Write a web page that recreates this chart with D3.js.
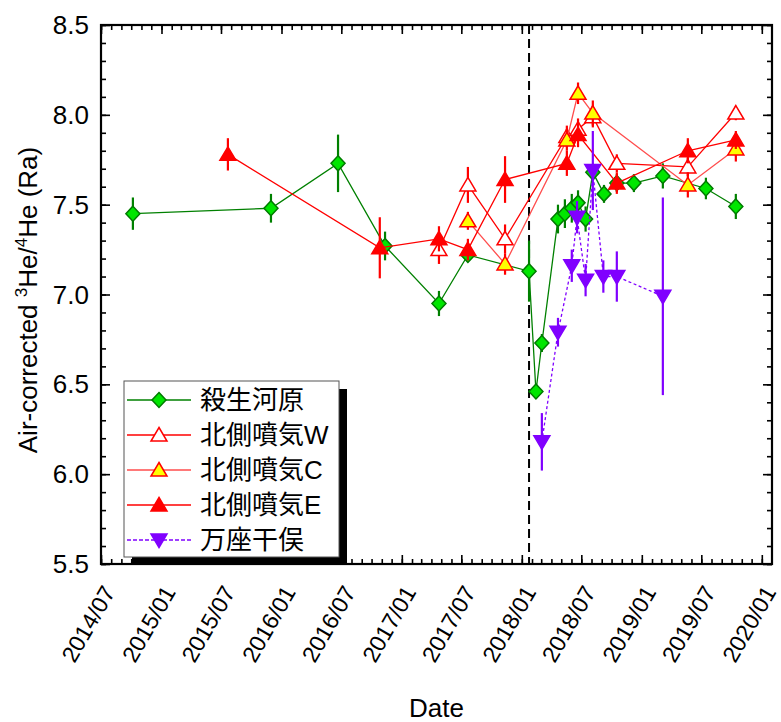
<!DOCTYPE html>
<html>
<head>
<meta charset="utf-8">
<script src="https://cdn.jsdelivr.net/npm/d3@7"></script>
<style>
  body { margin: 0; background: #fff; }
  text { font-family: "Liberation Sans", Arial, "Noto Sans CJK JP", sans-serif; fill: #000; }
</style>
</head>
<body>
<div id="chart"></div>
<script>
// [date, value, error]
var sessho = [
  ["2014-10-06", 7.45, 0.09], ["2015-11-30", 7.48, 0.08], ["2016-06-21", 7.73, 0.16],
  ["2016-11-11", 7.27, 0.08], ["2017-04-24", 6.95, 0.07], ["2017-07-21", 7.22, 0.04],
  ["2018-01-23", 7.13, 0.17], ["2018-02-13", 6.46, 0.04], ["2018-03-03", 6.73, 0.05],
  ["2018-04-21", 7.42, 0.08], ["2018-05-12", 7.45, 0.08], ["2018-06-02", 7.48, 0.08],
  ["2018-06-21", 7.51, 0.07], ["2018-07-14", 7.42, 0.07], ["2018-08-05", 7.68, 0.03],
  ["2018-09-08", 7.56, 0.05], ["2018-10-17", 7.62, 0.05], ["2018-12-08", 7.62, 0.05],
  ["2019-03-06", 7.66, 0.07], ["2019-07-15", 7.59, 0.06], ["2019-10-14", 7.49, 0.07]
];
var northW = [
  ["2017-04-24", 7.25, 0.08], ["2017-07-21", 7.61, 0.10], ["2017-11-11", 7.31, 0.08],
  ["2018-05-18", 7.88, 0.06], ["2018-06-21", 7.92, 0.06], ["2018-08-05", 7.99, 0.06],
  ["2018-10-17", 7.73, 0.05], ["2019-05-21", 7.71, 0.05], ["2019-10-14", 8.01, 0.04]
];
var northC = [
  ["2017-07-21", 7.41, 0.05], ["2017-11-11", 7.17, 0.06], ["2018-05-18", 7.86, 0.06],
  ["2018-06-21", 8.12, 0.06], ["2018-08-05", 8.01, 0.07], ["2019-05-21", 7.61, 0.07],
  ["2019-10-14", 7.81, 0.07]
];
var northE = [
  ["2015-07-22", 7.78, 0.09], ["2016-10-26", 7.26, 0.17], ["2017-04-24", 7.31, 0.07],
  ["2017-07-21", 7.25, 0.06], ["2017-11-11", 7.64, 0.13], ["2018-05-18", 7.73, 0.07],
  ["2018-06-21", 7.89, 0.07], ["2018-10-17", 7.62, 0.06], ["2019-05-21", 7.80, 0.07],
  ["2019-10-14", 7.86, 0.05]
];
var manza = [
  ["2018-03-03", 6.18, 0.16], ["2018-04-21", 6.79, 0.08], ["2018-06-02", 7.16, 0.09],
  ["2018-06-18", 7.43, 0.09], ["2018-07-14", 7.08, 0.09], ["2018-08-05", 7.69, 0.22],
  ["2018-09-06", 7.10, 0.09], ["2018-10-17", 7.10, 0.14], ["2019-03-06", 6.99, 0.55]
];
var seriesNames = ["殺生河原", "北側噴気W", "北側噴気C", "北側噴気E", "万座干俣"];
var eruptionDate = "2018-01-23";
var yTicks = [5.5, 6.0, 6.5, 7.0, 7.5, 8.0, 8.5];

var margin = { top: 25, right: 9, bottom: 158, left: 101 },
  width = 781 - margin.left - margin.right,
  height = 722 - margin.top - margin.bottom;

var parseDate = d3.utcParse("%Y-%m-%d");

var svg = d3
  .select("#chart")
  .append("svg")
  .attr("width", 781)
  .attr("height", 722)
  .append("g")
  .attr("transform", "translate(" + margin.left + "," + margin.top + ")");

var x = d3
  .scaleUtc()
  .domain([parseDate("2014-07-01"), parseDate("2020-02-01")])
  .range([0, width]);

var y = d3.scaleLinear().domain([5.5, 8.5]).range([height, 0]);

// ticks: majors every 6 months, minors monthly
var xMajor = d3.utcMonth.every(6).range(x.domain()[0], x.domain()[1]);
var xMinor = d3.utcMonth.range(x.domain()[0], x.domain()[1]);
var yMinor = d3.range(55, 86).map(function (d) { return d / 10; });

function tickAxis(axis, scale, values, size) {
  return axis(scale).tickValues(values).tickSizeInner(size).tickSizeOuter(0).tickFormat("");
}

var axes = [
  [d3.axisBottom, x, "translate(0," + height + ")"],
  [d3.axisTop, x, "translate(0,0)"],
  [d3.axisLeft, y, "translate(0,0)"],
  [d3.axisRight, y, "translate(" + width + ",0)"]
];
axes.forEach(function (a) {
  var isX = a[1] === x;
  var maj = isX ? xMajor : yTicks;
  var min = isX ? xMinor : yMinor;
  var gMin = svg.append("g").attr("transform", a[2]).call(tickAxis(a[0], a[1], min, -5));
  var gMaj = svg.append("g").attr("transform", a[2]).call(tickAxis(a[0], a[1], maj, -9));
  [gMin, gMaj].forEach(function (g) {
    g.select(".domain").remove();
    g.selectAll("line").attr("stroke", "#000").attr("stroke-width", 1.6);
  });
});

// frame
svg
  .append("rect")
  .attr("width", width)
  .attr("height", height)
  .attr("fill", "none")
  .attr("stroke", "#000")
  .attr("stroke-width", 2.2);

// tick labels
svg
  .selectAll(".ylab")
  .data(yTicks)
  .enter()
  .append("text")
  .attr("x", -12)
  .attr("y", function (d) { return y(d); })
  .attr("dy", "0.35em")
  .attr("text-anchor", "end")
  .style("font-size", "26px")
  .text(function (d) { return d.toFixed(1); });

var fmt = d3.utcFormat("%Y/%m");
svg
  .selectAll(".xlab")
  .data(xMajor)
  .enter()
  .append("text")
  .attr("transform", function (d) {
    return "translate(" + (x(d) + 8) + "," + (height + 24) + ") rotate(-60)";
  })
  .attr("dy", "0.35em")
  .attr("text-anchor", "end")
  .style("font-size", "23px")
  .text(fmt);

// axis titles
svg
  .append("text")
  .attr("x", width / 2)
  .attr("y", 717 - margin.top)
  .attr("text-anchor", "middle")
  .style("font-size", "26px")
  .text("Date");

var yt = svg
  .append("text")
  .attr("transform", "translate(" + (37 - margin.left) + "," + (300 - margin.top) + ") rotate(-90)")
  .attr("text-anchor", "middle")
  .style("font-size", "26px");
yt.append("tspan").text("Air-corrected ");
yt.append("tspan").attr("dy", -10).style("font-size", "17px").text("3");
yt.append("tspan").attr("dy", 10).text("He/");
yt.append("tspan").attr("dy", -10).style("font-size", "17px").text("4");
yt.append("tspan").attr("dy", 10).text("He (Ra)");

// eruption line
svg
  .append("line")
  .attr("x1", x(parseDate(eruptionDate)))
  .attr("x2", x(parseDate(eruptionDate)))
  .attr("y1", 0)
  .attr("y2", height)
  .attr("stroke", "#000")
  .attr("stroke-width", 2)
  .attr("stroke-dasharray", "9,5");

// marker shapes
var shapes = {
  diamond: "M0,-7.5L7,0L0,7.5L-7,0Z",
  up: "M0,-7.5L8,6L-8,6Z",
  down: "M0,7.5L8,-6L-8,-6Z"
};

var styles = [
  { data: sessho, shape: "diamond", line: "#008000", bar: "#008000", fill: "#00e600", stroke: "#007a00", dash: null },
  { data: northW, shape: "up", line: "#ff0000", bar: "#ff0000", fill: "#ffffff", stroke: "#ff0000", dash: null },
  { data: northC, shape: "up", line: "#ff4d4d", bar: "#ff0000", fill: "#ffff00", stroke: "#ff0000", dash: null },
  { data: northE, shape: "up", line: "#ff0000", bar: "#ff0000", fill: "#ff0000", stroke: "#ff0000", dash: null },
  { data: manza, shape: "down", line: "#8000ff", bar: "#8000ff", fill: "#8000ff", stroke: "#8000ff", dash: "3,2.5" }
];

var line = d3
  .line()
  .x(function (d) { return x(parseDate(d[0])); })
  .y(function (d) { return y(d[1]); });

styles.forEach(function (s) {
  var g = svg.append("g");
  g.append("path")
    .attr("d", line(s.data))
    .attr("fill", "none")
    .attr("stroke", s.line)
    .attr("stroke-width", 1.3)
    .attr("stroke-dasharray", s.dash);
  g.selectAll(".err")
    .data(s.data)
    .enter()
    .append("line")
    .attr("x1", function (d) { return x(parseDate(d[0])); })
    .attr("x2", function (d) { return x(parseDate(d[0])); })
    .attr("y1", function (d) { return y(d[1] - d[2]); })
    .attr("y2", function (d) { return y(d[1] + d[2]); })
    .attr("stroke", s.bar)
    .attr("stroke-width", 2.2);
  g.selectAll(".mk")
    .data(s.data)
    .enter()
    .append("path")
    .attr("d", shapes[s.shape])
    .attr("transform", function (d) {
      return "translate(" + x(parseDate(d[0])) + "," + y(d[1]) + ")";
    })
    .attr("fill", s.fill)
    .attr("stroke", s.stroke)
    .attr("stroke-width", 1.5);
});

// legend
var lg = svg.append("g").attr("transform", "translate(" + (124 - margin.left) + "," + (381 - margin.top) + ")");
lg.append("rect").attr("x", 8).attr("y", 8).attr("width", 215).attr("height", 176).attr("fill", "#000");
lg.append("rect")
  .attr("width", 215)
  .attr("height", 176)
  .attr("fill", "#fff")
  .attr("stroke", "#555")
  .attr("stroke-width", 1);

var rows = lg
  .selectAll(".row")
  .data(styles)
  .enter()
  .append("g")
  .attr("transform", function (d, i) { return "translate(0," + (19 + i * 35) + ")"; });
rows
  .append("line")
  .attr("x1", 3)
  .attr("x2", 67)
  .attr("stroke", function (d) { return d.line; })
  .attr("stroke-width", 1.3)
  .attr("stroke-dasharray", function (d) { return d.dash ? "4,2" : null; });
rows
  .append("path")
  .attr("d", function (d) { return shapes[d.shape]; })
  .attr("transform", "translate(35,0)")
  .attr("fill", function (d) { return d.fill; })
  .attr("stroke", function (d) { return d.stroke; })
  .attr("stroke-width", 1.5);
rows
  .append("text")
  .attr("x", 76)
  .attr("dy", "0.36em")
  .style("font-size", "26px")
  .text(function (d, i) { return seriesNames[i]; });
</script>
</body>
</html>
